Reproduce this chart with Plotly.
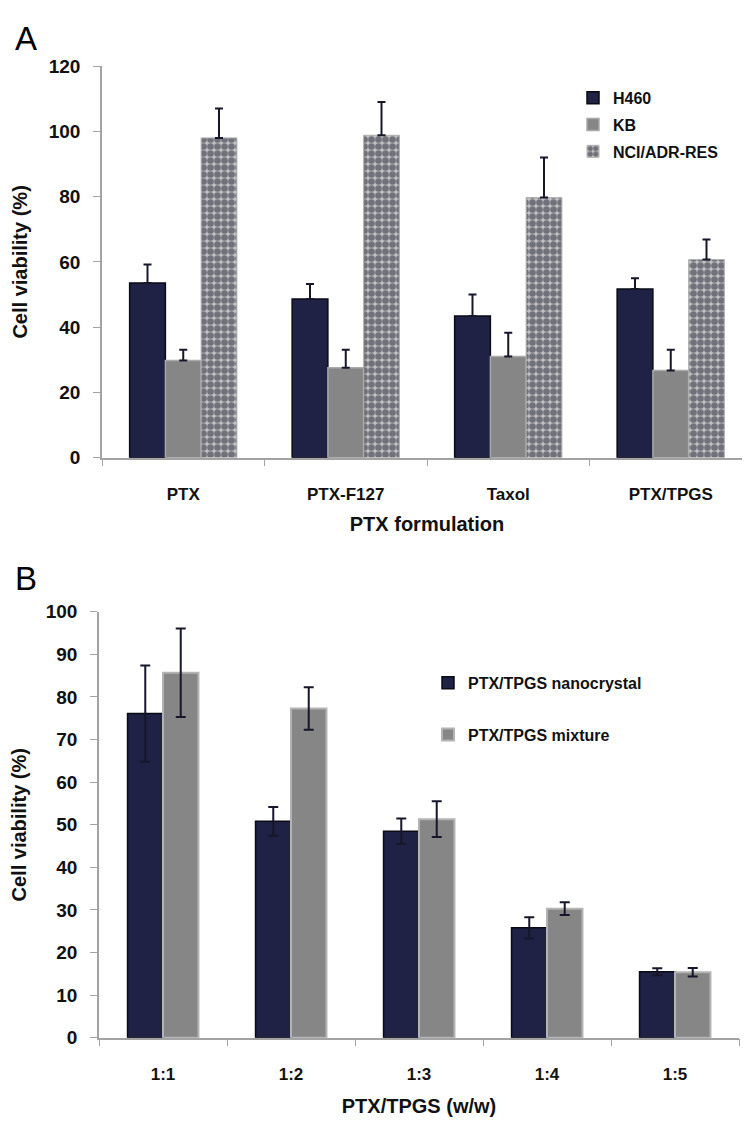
import plotly.graph_objects as go

# ---------------- data ----------------
formulations = ["PTX", "PTX-F127", "Taxol", "PTX/TPGS"]
h460 = [53.5, 48.6, 43.4, 51.7]
h460_err = [5.7, 4.6, 6.6, 3.3]
kb = [29.8, 27.6, 31.0, 26.7]
kb_err = [3.3, 5.5, 7.3, 6.4]
nci = [98.0, 98.8, 79.7, 60.7]
nci_err = [9.0, 10.2, 12.3, 6.2]

ratios = ["1:1", "1:2", "1:3", "1:4", "1:5"]
nano = [76.1, 50.8, 48.5, 25.8, 15.5]
nano_err = [11.3, 3.4, 3.0, 2.5, 0.8]
mix = [85.7, 77.3, 51.3, 30.3, 15.4]
mix_err = [10.4, 5.0, 4.2, 1.5, 1.0]

W, H = 750, 1133
NAVY = "#1f2145"
GRAY = "#868686"
AXC = "#a3a3a3"
ERRC = "#16172a"
FONT = "Liberation Sans"


def px(x):
    return x / W


def py(y):
    return 1 - y / H


fig = go.Figure()

# -------- Panel A --------
wa = 0.22
fig.add_trace(go.Bar(
    x=formulations, y=h460, name="H460", width=wa, offset=-1.5 * wa,
    marker=dict(color=NAVY, line=dict(color="#0a0a14", width=1.5)),
    error_y=dict(type="data", array=h460_err, arrayminus=[0] * 4, symmetric=False,
                 color=ERRC, thickness=2, width=4),
    xaxis="x", yaxis="y", legend="legend", legendgroup="a1"))
fig.add_trace(go.Bar(
    x=formulations, y=kb, name="KB", width=wa, offset=-0.5 * wa,
    marker=dict(color=GRAY, line=dict(color="#a9a9a9", width=1.5)),
    error_y=dict(type="data", array=kb_err, arrayminus=[0] * 4, symmetric=False,
                 color=ERRC, thickness=2, width=4),
    xaxis="x", yaxis="y", legend="legend", legendgroup="a2"))
fig.add_trace(go.Bar(
    x=formulations, y=nci, name="NCI/ADR-RES", width=wa, offset=0.5 * wa,
    marker=dict(color="#bdbdbd",
                pattern=dict(shape=".", fgcolor="#1e1f33", bgcolor="#c2c2c2",
                             size=7, solidity=0.7),
                line=dict(color="#b0b0b0", width=1)),
    error_y=dict(type="data", array=nci_err, arrayminus=[0] * 4, symmetric=False,
                 color=ERRC, thickness=2, width=4),
    xaxis="x", yaxis="y", legend="legend", legendgroup="a3"))

# -------- Panel B --------
wb = 0.277
fig.add_trace(go.Bar(
    x=ratios, y=nano, name="PTX/TPGS nanocrystal", width=wb, offset=-wb,
    marker=dict(color=NAVY, line=dict(color="#0a0a14", width=1.5)),
    error_y=dict(type="data", array=nano_err, color=ERRC, thickness=2, width=5),
    xaxis="x2", yaxis="y2", legend="legend2", legendgroup="b1"))
fig.add_trace(go.Bar(
    x=ratios, y=mix, name="PTX/TPGS mixture", width=wb, offset=0,
    marker=dict(color=GRAY, line=dict(color="#b3b3b3", width=2)),
    error_y=dict(type="data", array=mix_err, color=ERRC, thickness=2, width=5),
    xaxis="x2", yaxis="y2", legend="legend2", legendgroup="b2"))

xtickfont = dict(family=FONT, size=17, color="#111111", weight="bold")
ytickfont = dict(family=FONT, size=19, color="#111111", weight="bold")
titlefont = dict(family=FONT, size=20, color="#111111", weight="bold")

common_x = dict(type="category", showline=True, linecolor=AXC, linewidth=1.5,
                ticks="outside", tickson="boundaries", ticklen=7, tickcolor=AXC,
                showgrid=False, zeroline=False, tickfont=xtickfont,
                ticklabelstandoff=20, title_font=titlefont)
common_y = dict(showline=True, linecolor=AXC, linewidth=1.5, ticks="outside",
                ticklen=7, tickcolor=AXC, showgrid=False, zeroline=False,
                tickfont=ytickfont, ticklabelstandoff=9, title_font=titlefont)

fig.update_layout(
    width=W, height=H, margin=dict(l=0, r=0, t=0, b=0),
    paper_bgcolor="white", plot_bgcolor="white",
    xaxis=dict(domain=[px(94), px(744)], anchor="y",
               title=dict(text="PTX formulation", standoff=14), **common_x),
    yaxis=dict(domain=[py(448), py(49)], anchor="x", range=[0, 120], dtick=20,
               title=dict(text="Cell viability (%)", standoff=16), **common_y),
    xaxis2=dict(domain=[px(91), px(731)], anchor="y2",
                title=dict(text="PTX/TPGS (w/w)", standoff=16), **common_x),
    yaxis2=dict(domain=[py(1039), py(605)], anchor="x2", range=[0, 100], dtick=10,
                title=dict(text="Cell viability (%)", standoff=16), **common_y),
    legend=dict(x=px(565), y=py(64), xanchor="left", yanchor="top",
                font=dict(family=FONT, size=16, color="#111111", weight="bold"),
                bgcolor="rgba(0,0,0,0)", tracegroupgap=3, itemwidth=30),
    legend2=dict(x=px(420), y=py(660), xanchor="left", yanchor="top",
                 font=dict(family=FONT, size=16, color="#111111", weight="bold"),
                 bgcolor="rgba(0,0,0,0)", tracegroupgap=28, itemwidth=30),
    showlegend=True,
    annotations=[
        dict(text="A", x=px(5), y=py(0), xref="paper", yref="paper",
             xanchor="left", yanchor="top", showarrow=False,
             font=dict(family=FONT, size=33, color="black")),
        dict(text="B", x=px(5), y=py(550), xref="paper", yref="paper",
             xanchor="left", yanchor="top", showarrow=False,
             font=dict(family=FONT, size=33, color="black")),
    ],
)

fig.write_html("out.html")
